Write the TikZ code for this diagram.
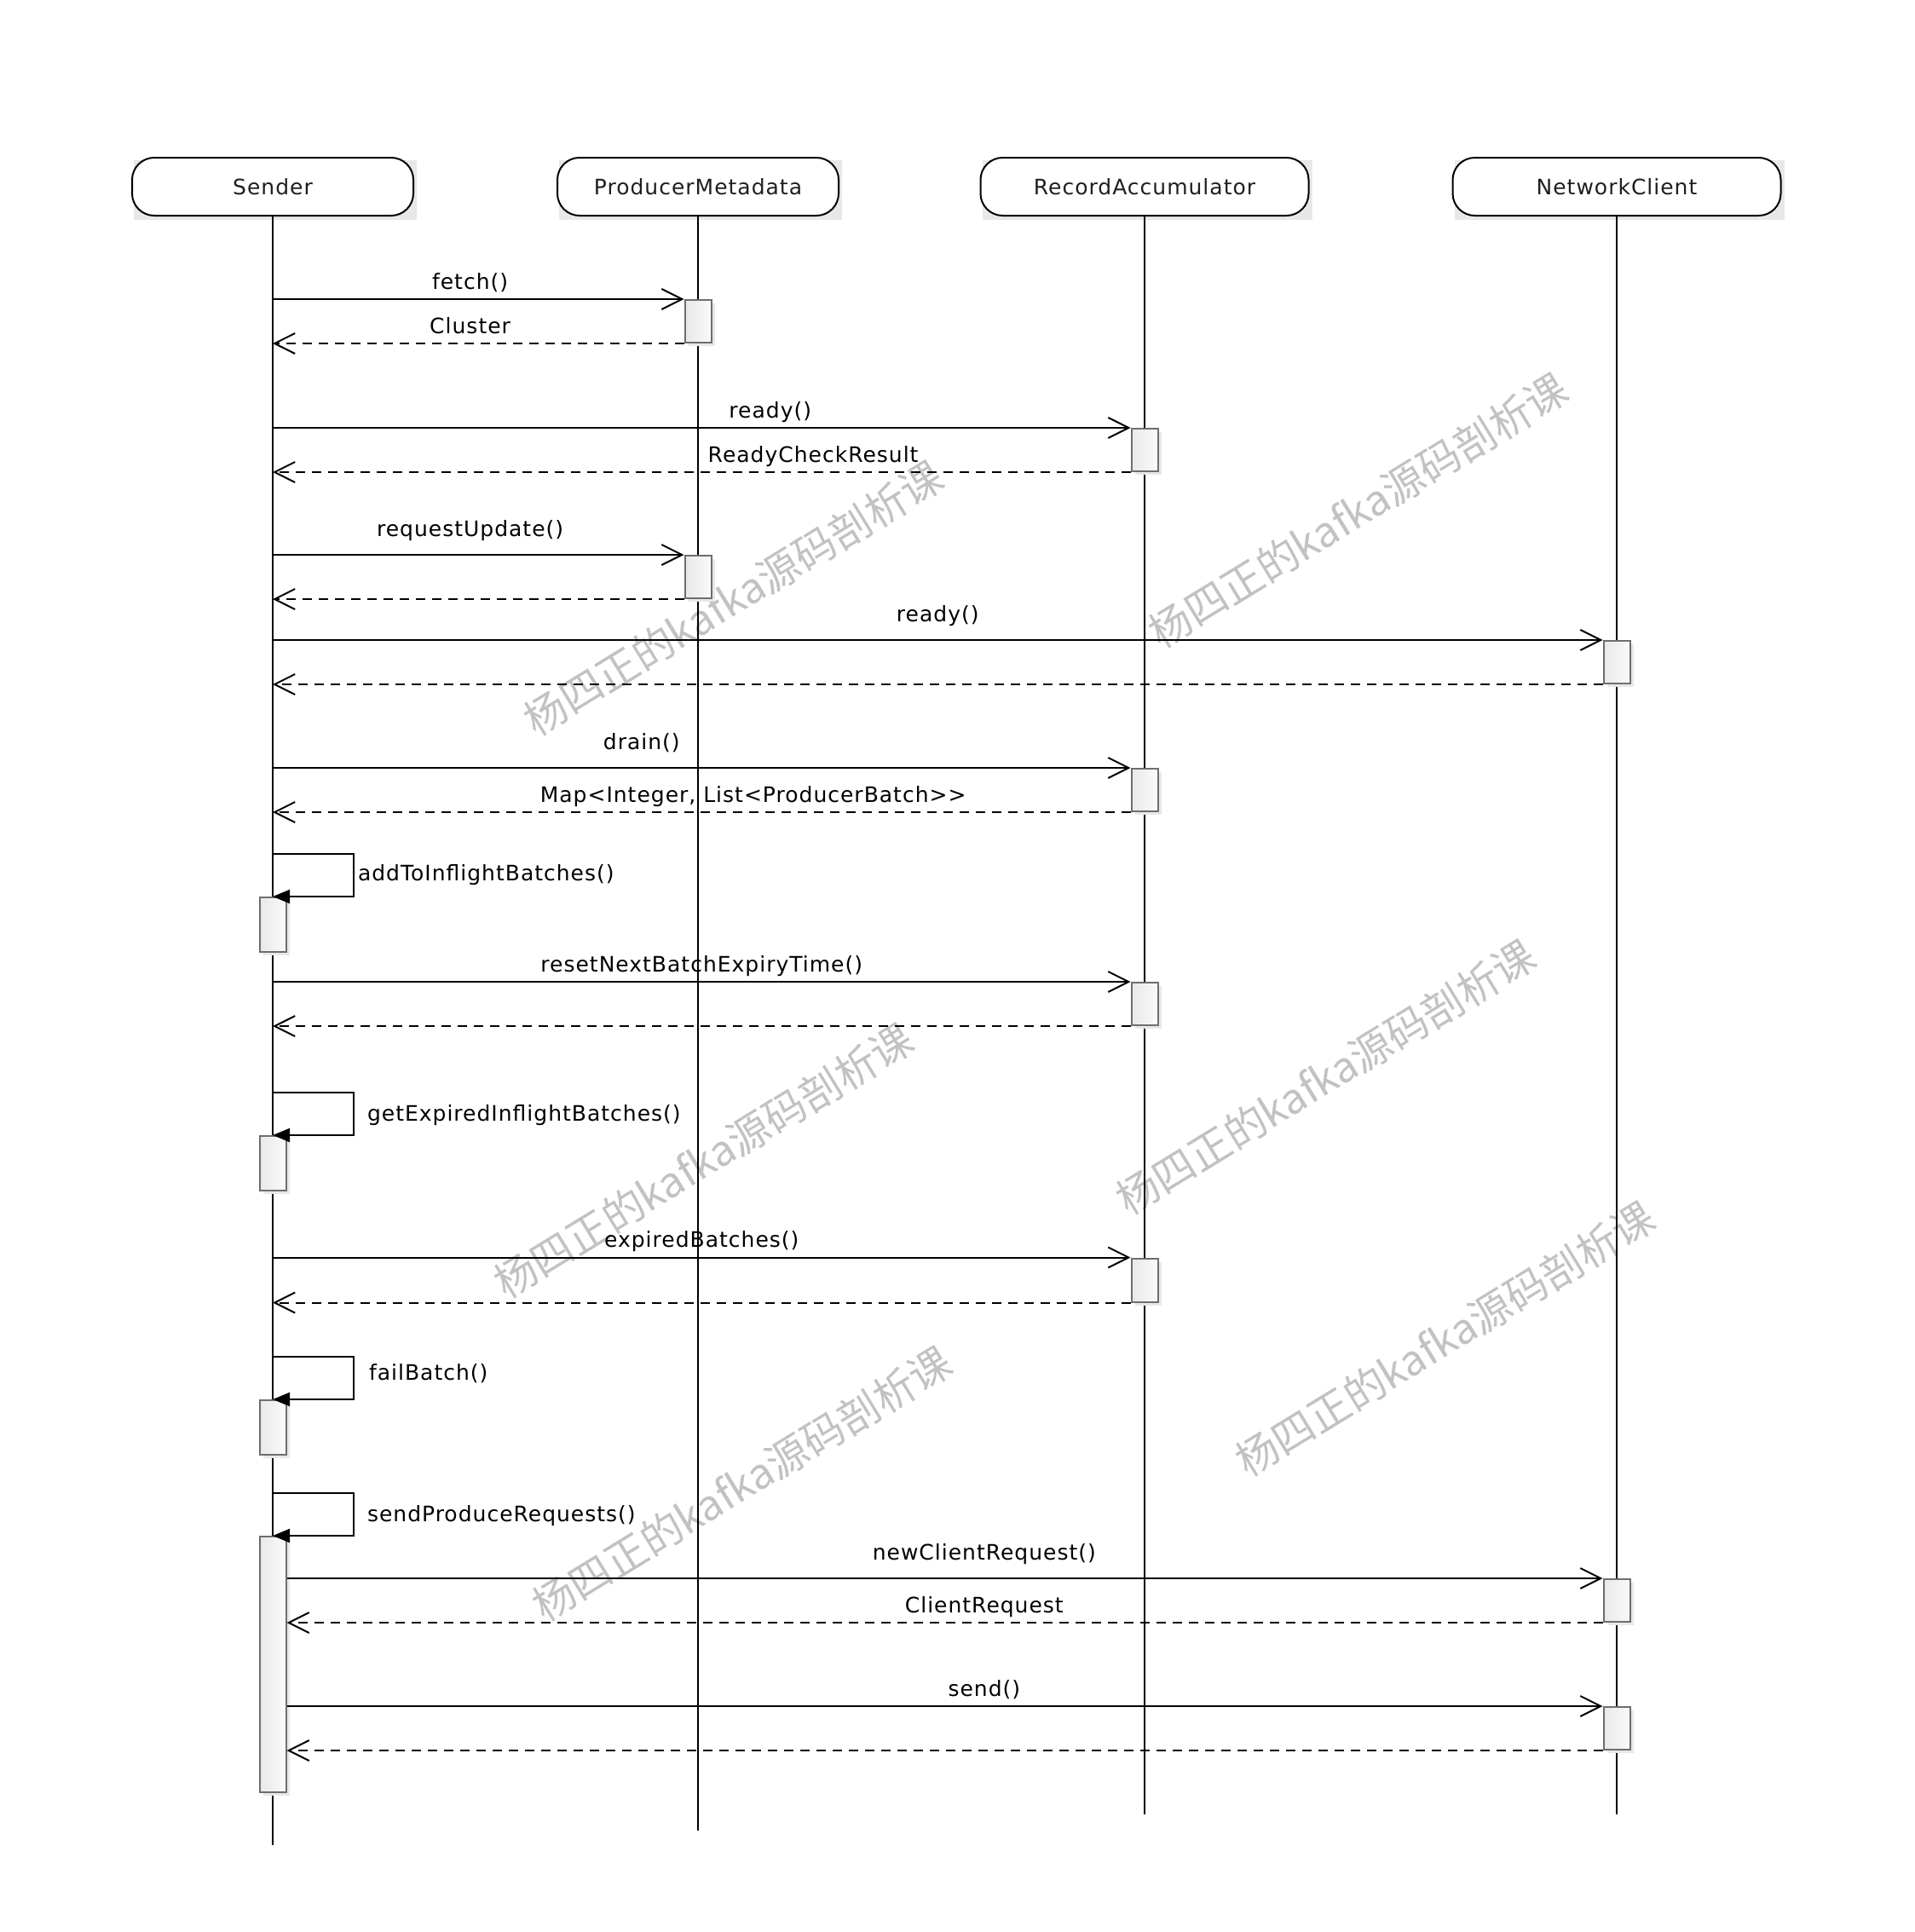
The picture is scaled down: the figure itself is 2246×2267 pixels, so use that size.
\documentclass[tikz,border=0pt]{standalone}
\usepackage{fontspec}
\setmainfont{DejaVu Sans}[LetterSpace=4]
\newfontfamily\cjk{Noto Sans CJK SC}
\usetikzlibrary{arrows.meta,backgrounds,shadows}

\begin{document}
\begin{tikzpicture}
  [ x=1pt, y=-1pt, font=\fontsize{25}{30}\selectfont, text=black!88,
    hd/.style={rectangle, rounded corners=26pt, draw=black, line width=2pt, fill=white,
      minimum height=68pt, inner sep=0pt},
    actbox/.style={rectangle, draw=black!57, line width=2pt, left color=black!9, right color=black!2,
      minimum width=31pt, inner sep=0pt,
      copy shadow={shadow xshift=4pt, shadow yshift=-4pt, draw=none, fill=black!9}},
    life/.style={-, line width=2pt, black},
    msg/.style={-{Straight Barb[length=24pt,width=24pt]}, line width=2pt, black},
    rtn/.style={msg, dash pattern=on 11pt off 8pt},
    selfmsg/.style={-{Triangle[length=20pt,width=16pt]}, line width=2pt, black},
    lbl/.style={above=5pt, inner sep=0pt, text depth=6pt},
    hilbl/.style={above=15pt, inner sep=0pt, text depth=6pt},
    wmk/.style={text=black!24, rotate=31.5, font=\cjk\fontsize{49}{54}\selectfont}
  ]
  \useasboundingbox (0,0) rectangle (2246,2267);

  % watermarks
  \begin{scope}[on background layer]
    \foreach \x/\y [count=\i] in {861/702, 1594/599, 826/1362, 1556/1264, 1696/1571, 871/1741}
      \node[wmk] (wm\i) at (\x,\y) {杨四正的kafka源码剖析课};
  \end{scope}

  % objects
  \node[hd, minimum width=330pt] (sender) at (320,219) {Sender};
  \node[hd, minimum width=330pt] (meta) at (819,219) {ProducerMetadata};
  \node[hd, minimum width=385pt] (accum) at (1343,219) {RecordAccumulator};
  \node[hd, minimum width=385pt] (client) at (1897,219) {NetworkClient};

  \begin{scope}[on background layer]
    \foreach \n in {sender,meta,accum,client}
      \fill[black!9] ([shift={(3,4)}]\n.north west) rectangle ([shift={(3,4)}]\n.south east);
  \end{scope}

  \coordinate (sender end) at (320,2165);
  \coordinate (meta end) at (819,2148);
  \coordinate (accum end) at (1343,2129);
  \coordinate (client end) at (1897,2129);

  \draw [life] (sender) -- (sender end);
  \draw [life] (meta) -- (meta end);
  \draw [life] (accum) -- (accum end);
  \draw [life] (client) -- (client end);

  % activations
  \node[actbox, minimum height=50pt] (a1) at (819,377) {};
  \node[actbox, minimum height=50pt] (a2) at (1343,528) {};
  \node[actbox, minimum height=50pt] (a3) at (819,677) {};
  \node[actbox, minimum height=50pt] (a4) at (1897,777) {};
  \node[actbox, minimum height=50pt] (a5) at (1343,927) {};
  \node[actbox, minimum height=64pt] (s1) at (320,1085) {};
  \node[actbox, minimum height=50pt] (a6) at (1343,1178) {};
  \node[actbox, minimum height=64pt] (s2) at (320,1365) {};
  \node[actbox, minimum height=51pt] (a7) at (1343,1502) {};
  \node[actbox, minimum height=64pt] (s3) at (320,1675) {};
  \node[actbox, minimum height=300pt] (s4) at (320,1953) {};
  \node[actbox, minimum height=50pt] (a8) at (1897,1878) {};
  \node[actbox, minimum height=50pt] (a9) at (1897,2028) {};

  % messages
  \draw [msg] (sender |- a1.north) -- (a1.north west) node[lbl, pos=0.48] (m1) {fetch()};
  \draw [rtn] (a1.south west) -- (sender |- a1.south) node[lbl, pos=0.52] (r1) {Cluster};
  \draw [msg] (sender |- a2.north) -- (a2.north west) node[lbl, pos=0.58] (m2) {ready()};
  \draw [rtn] (a2.south west) -- (sender |- a2.south) node[lbl, pos=0.37] (r2) {ReadyCheckResult};
  \draw [msg] (sender |- a3.north) -- (a3.north west) node[lbl, above=10pt, pos=0.48] (m3) {requestUpdate()};
  \draw [rtn] (a3.south west) -- (sender |- a3.south);
  \draw [msg] (sender |- a4.north) -- (a4.north west) node[hilbl, pos=0.50] (m4) {ready()};
  \draw [rtn] (a4.south west) -- (sender |- a4.south);
  \draw [msg] (sender |- a5.north) -- (a5.north west) node[hilbl, pos=0.43] (m5) {drain()};
  \draw [rtn] (a5.south west) -- (sender |- a5.south) node[lbl, pos=0.44] (r5) {Map<Integer, List<ProducerBatch>{}>};
  \draw [selfmsg] ([yshift=50pt]s1.north) -- ++(95,0) |- (s1.north)
    node[pos=0.25, right=4pt, inner sep=0pt] (m6) {addToInflightBatches()};
  \draw [msg] (sender |- a6.north) -- (a6.north west) node[lbl, pos=0.50] (m7) {resetNextBatchExpiryTime()};
  \draw [rtn] (a6.south west) -- (sender |- a6.south);
  \draw [selfmsg] ([yshift=50pt]s2.north) -- ++(95,0) |- (s2.north)
    node[pos=0.25, right=15pt, inner sep=0pt, yshift=-2pt] (m8) {getExpiredInflightBatches()};
  \draw [msg] (sender |- a7.north) -- (a7.north west) node[lbl, pos=0.50] (m9) {expiredBatches()};
  \draw [rtn] (a7.south west) -- (sender |- a7.south);
  \draw [selfmsg] ([yshift=50pt]s3.north) -- ++(95,0) |- (s3.north)
    node[pos=0.25, right=17pt, inner sep=0pt, yshift=5pt] (m10) {failBatch()};
  \draw [selfmsg] ([yshift=50pt]s4.north) -- ++(95,0) |- (s4.north)
    node[pos=0.25, right=15pt, inner sep=0pt, yshift=-2pt] (m11) {sendProduceRequests()};
  \draw [msg] (s4.east |- a8.north) -- (a8.north west) node[hilbl, pos=0.53] (m12) {newClientRequest()};
  \draw [rtn] (a8.south west) -- (s4.east |- a8.south) node[lbl, pos=0.47] (r12) {ClientRequest};
  \draw [msg] (s4.east |- a9.north) -- (a9.north west) node[lbl, pos=0.53] (m13) {send()};
  \draw [rtn] (a9.south west) -- (s4.east |- a9.south);
\end{tikzpicture}
\end{document}
